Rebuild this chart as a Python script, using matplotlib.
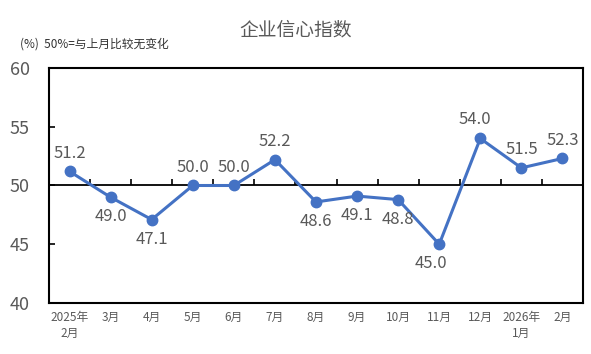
import numpy as np
import matplotlib.pyplot as plt

plt.rcParams['font.family'] = ['Noto Sans CJK SC', 'DejaVu Sans']

months = ["2025年\n2月", "3月", "4月", "5月", "6月", "7月", "8月", "9月",
          "10月", "11月", "12月", "2026年\n1月", "2月"]
values = [51.2, 49.0, 47.1, 50.0, 50.0, 52.2, 48.6, 49.1, 48.8, 45.0, 54.0, 51.5, 52.3]
# label offsets in points (dx, dy)
offsets = [(0, 13), (0, -14), (0, -14), (0, 13), (0, 13), (0, 13), (0, -14),
           (0, -14), (0, -14), (-6, -14), (-4, 14), (0, 13), (0, 13)]

fig = plt.figure(figsize=(5.91, 3.54), dpi=100)
ax = fig.add_axes([49/591, 1 - 303/354, (583-49)/591, (303-68)/354])

x = np.arange(len(values))
ax.plot(x, values, color="#4472C4", linewidth=2.2, marker="o", markersize=7.5, zorder=3)

for xi, v, (dx, dy) in zip(x, values, offsets):
    ax.annotate(f"{v:.1f}", (xi, v), xytext=(dx, dy), textcoords="offset points",
                ha="center", va="center", fontsize=12, color="#595959")

ax.set_xlim(-0.5, len(values) - 0.5)
ax.set_ylim(40, 60)
ax.set_yticks([40, 45, 50, 55, 60])
ax.set_xticks(x)
ax.set_xticklabels(months, fontsize=8.5, color="#595959", linespacing=1.3)
ax.tick_params(axis="x", length=0, pad=6)
ax.tick_params(axis="y", direction="in", length=4, width=1.2, labelsize=13,
               labelcolor="#595959", pad=14)
for s in ax.spines.values():
    s.set_linewidth(1.5)
    s.set_color("black")

# category axis crossing at 50, with tick marks between categories
ax2 = ax.twiny()
ax2.set_xlim(ax.get_xlim())
ax2.xaxis.set_ticks_position("bottom")
ax2.spines["bottom"].set_position(("data", 50))
for k in ["top", "left", "right"]:
    ax2.spines[k].set_visible(False)
ax2.spines["bottom"].set_linewidth(1.3)
ax2.set_xticks(x[:-1] + 0.5)
ax2.set_xticklabels([])
ax2.tick_params(axis="x", direction="in", length=4, width=1.2)
ax2.set_zorder(ax.get_zorder() - 1)
ax.patch.set_visible(False)

fig.text(0.5, 1 - 30/354, "企业信心指数", ha="center", va="center", fontsize=13.5, color="#595959")
fig.text(20/591, 1 - 44/354, "(%)  50%=与上月比较无变化", ha="left", va="center", fontsize=8.5, color="#333333")

fig.savefig("out.png", dpi=100)
